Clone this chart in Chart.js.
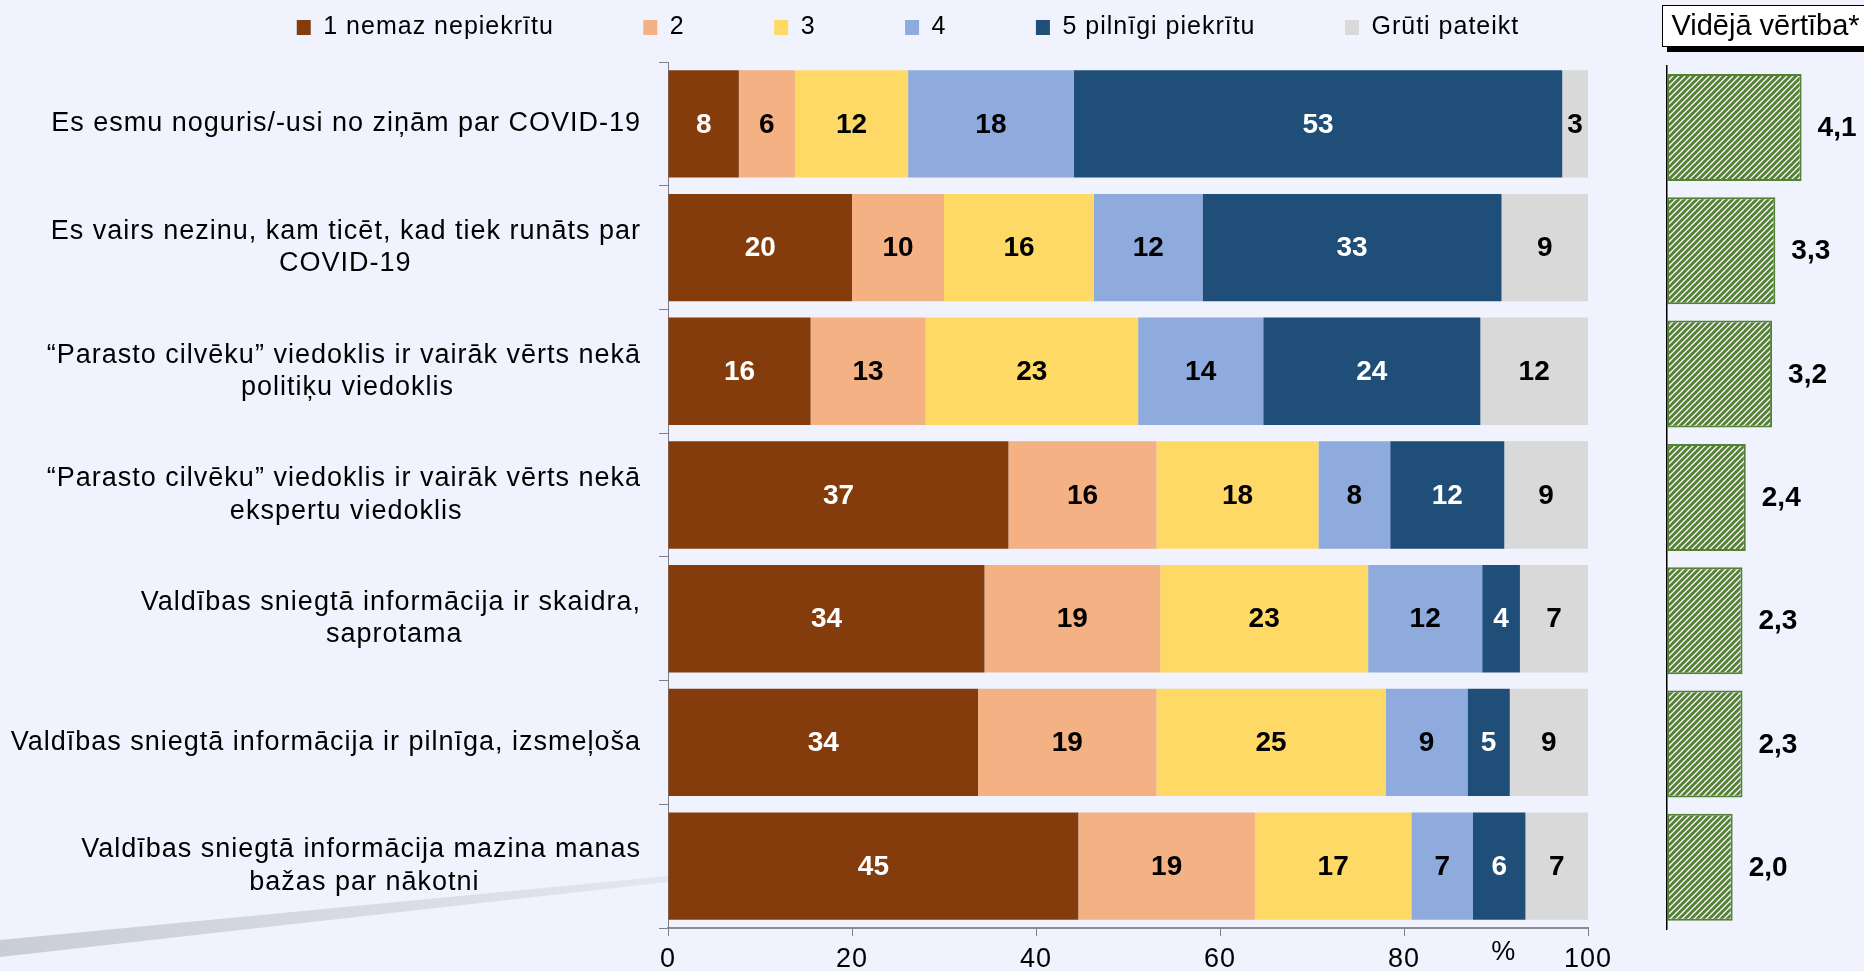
<!DOCTYPE html>
<html lang="lv">
<head>
<meta charset="utf-8">
<title>COVID-19 informācija</title>
<script src="https://cdn.jsdelivr.net/npm/chart.js@4.4.1/dist/chart.umd.min.js"></script>
<style>
  html, body { margin: 0; padding: 0; background: #F0F3FD; overflow: hidden; }
  #wrap { position: relative; width: 1864px; height: 971px; }
  #main { position: absolute; left: 0; top: 0; }
  #mean { position: absolute; left: 1640px; top: 4px; }
</style>
</head>
<body>
<div id="wrap">
  <canvas id="main" width="1816" height="971"></canvas>
  <canvas id="mean" width="224" height="967"></canvas>
</div>
<script>
// ---------- DATA ----------
const categories = [
  ["Es esmu noguris/-usi no ziņām par COVID-19"],
  ["Es vairs nezinu, kam ticēt, kad tiek runāts par", "COVID-19"],
  ["“Parasto cilvēku” viedoklis ir vairāk vērts nekā", "politiķu viedoklis"],
  ["“Parasto cilvēku” viedoklis ir vairāk vērts nekā", "ekspertu viedoklis"],
  ["Valdības sniegtā informācija ir skaidra,", "saprotama"],
  ["Valdības sniegtā informācija ir pilnīga, izsmeļoša"],
  ["Valdības sniegtā informācija mazina manas", "bažas par nākotni"]
];
const seriesNames = ["1 nemaz nepiekrītu", "2", "3", "4", "5 pilnīgi piekrītu", "Grūti pateikt"];
const s1 = [7.7, 20.0, 15.5, 37.0, 34.4, 33.7, 44.6];
const s2 = [6.1, 10.0, 12.5, 16.1, 19.1, 19.4, 19.2];
const s3 = [12.3, 16.3, 23.1, 17.6, 22.6, 24.9, 17.0];
const s4 = [18.0, 11.8, 13.6, 7.8, 12.4, 8.9, 6.7];
const s5 = [53.1, 32.5, 23.6, 12.4, 4.1, 4.6, 5.7];
const s6 = [2.8, 9.4, 11.7, 9.1, 7.4, 8.5, 6.8];
const meanValues = [4.1, 3.3, 3.2, 2.4, 2.3, 2.3, 2.0];
const xTicks = [0, 20, 40, 60, 80, 100];
const axisUnit = "%";
const meanTitle = "Vidējā vērtība*";

// ---------- STYLE ----------
const seriesColors = ["#843C0C", "#F4B183", "#FFD966", "#8FAADC", "#1F4E79", "#D9D9D9"];
const labelColors  = ["#FFFFFF", "#000000", "#000000", "#000000", "#FFFFFF", "#000000"];
const FONT = '"Liberation Sans", Arial, sans-serif';
const SPACING = '1px';
const legendGapSpaces = 10;
Chart.defaults.font.family = FONT;
Chart.defaults.color = '#000';

// centre the lines of a multi-line label under the longest one (Excel style)
const mctx = document.createElement('canvas').getContext('2d');
function centredLines(lines, font) {
  if (lines.length < 2) return lines;
  mctx.font = font; mctx.letterSpacing = SPACING;
  const ws = lines.map(l => mctx.measureText(l).width);
  const wMax = Math.max(...ws);
  const sp = mctx.measureText('a ').width - mctx.measureText('a').width;
  return lines.map((l, k) => l + ' '.repeat(Math.max(0, Math.round((wMax - ws[k]) / 2 / sp))));
}

const spacingPlugin = {
  id: 'spacing',
  beforeUpdate(c) { c.ctx.letterSpacing = SPACING; },
  beforeLayout(c) { c.ctx.letterSpacing = SPACING; },
  beforeDraw(c) { c.ctx.letterSpacing = SPACING; }
};

const decoPlugin = {
  id: 'deco',
  beforeDraw(c) {
    const ctx = c.ctx, a = c.chartArea;
    ctx.save();
    const g = ctx.createLinearGradient(0, 0, a.left, 0);
    g.addColorStop(0, '#C9CDD7');
    g.addColorStop(1, '#E3E6EE');
    ctx.fillStyle = g;
    ctx.beginPath();
    ctx.moveTo(0, 940); ctx.lineTo(a.left, 876);
    ctx.lineTo(a.left, 882); ctx.lineTo(0, 957);
    ctx.closePath(); ctx.fill();
    ctx.restore();
  },
  afterDraw(c) {
    const ctx = c.ctx, xs = c.scales.x;
    ctx.save();
    ctx.letterSpacing = '0px';
    ctx.font = '27px ' + FONT;
    ctx.fillStyle = '#000';
    ctx.textAlign = 'center'; ctx.textBaseline = 'middle';
    ctx.fillText(axisUnit, xs.getPixelForValue(90.8), xs.top + 25);
    ctx.restore();
  }
};

const barLabelPlugin = {
  id: 'barLabels',
  afterDatasetsDraw(c) {
    const ctx = c.ctx;
    ctx.save();
    ctx.letterSpacing = '0px';
    ctx.font = 'bold 28px ' + FONT;
    ctx.textAlign = 'center'; ctx.textBaseline = 'middle';
    c.data.datasets.forEach((ds, di) => {
      const meta = c.getDatasetMeta(di);
      meta.data.forEach((el, i) => {
        const p = el.getProps(['x', 'y', 'base'], true);
        ctx.fillStyle = labelColors[di];
        ctx.fillText(String(Math.round(ds.data[i])), (p.x + p.base) / 2, p.y + 1);
      });
    });
    ctx.restore();
  }
};

const seriesData = [s1, s2, s3, s4, s5, s6];

new Chart(document.getElementById('main'), {
  type: 'bar',
  data: {
    labels: categories,
    datasets: seriesNames.map((name, i) => ({
      label: name,
      data: seriesData[i],
      backgroundColor: seriesColors[i],
      borderWidth: 0,
      xAxisID: 'x', yAxisID: 'y',
      categoryPercentage: 0.868,
      barPercentage: 1
    }))
  },
  options: {
    indexAxis: 'y',
    responsive: false,
    animation: false,
    devicePixelRatio: 1,
    layout: { padding: { top: 5, left: 0, right: 0, bottom: -12 } },
    plugins: {
      tooltip: { enabled: false },
      legend: {
        position: 'top',
        labels: {
          font: { size: 25 },
          color: '#000',
          boxWidth: 14,
          boxHeight: 15,
          padding: 10,
          generateLabels(chart) {
            const items = Chart.defaults.plugins.legend.labels.generateLabels(chart);
            items.forEach((it, i) => { if (i < items.length - 1) it.text = it.text + ' '.repeat(legendGapSpaces); });
            return items;
          }
        }
      }
    },
    scales: {
      x: {
        type: 'linear', position: 'bottom', stacked: true,
        min: 0, max: 100,
        afterBuildTicks(s) { s.ticks = xTicks.map(v => ({ value: v })); },
        ticks: { font: { size: 27, lineHeight: 1 }, color: '#000', padding: 10 },
        grid: { display: true, drawOnChartArea: false, tickLength: 8, color: '#7F7F85', lineWidth: 1 },
        border: { display: true, color: '#8A8A90', width: 2 }
      },
      xTop: {
        type: 'linear', position: 'top', display: true,
        ticks: { display: false }, grid: { display: false }, border: { display: false },
        afterFit(s) { s.height = 12; }
      },
      y: {
        type: 'category', position: 'left', stacked: true,
        ticks: {
          font: { size: 27, lineHeight: 1.2 }, color: '#000', padding: 18,
          autoSkip: false,
          callback(v, i) { return centredLines(categories[i], '27px ' + FONT); }
        },
        grid: { display: true, drawOnChartArea: false, offset: true, tickLength: 9, color: '#7F7F85', lineWidth: 1 },
        border: { display: true, color: '#7F7F85', width: 1 },
        afterFit(s) { s.width = 668; s.paddingTop = 0; s.paddingBottom = 0; }
      },
      yR: {
        type: 'category', position: 'right', display: true,
        ticks: { display: false }, grid: { display: false }, border: { display: false },
        afterFit(s) { s.width = 228; }
      }
    }
  },
  plugins: [spacingPlugin, decoPlugin, barLabelPlugin]
});

// ---------- MEAN CHART ----------
function hatchPattern() {
  const s = 6;
  const c = document.createElement('canvas'); c.width = s; c.height = s;
  const g = c.getContext('2d');
  g.fillStyle = '#FFFFFF'; g.fillRect(0, 0, s, s);
  g.strokeStyle = '#548235'; g.lineWidth = 3;
  g.beginPath();
  g.moveTo(-1, s + 1); g.lineTo(s + 1, -1);
  g.moveTo(-s / 2 - 1, s / 2 + 1); g.lineTo(s / 2 + 1, -s / 2 - 1);
  g.moveTo(s / 2 - 1, s * 1.5 + 1); g.lineTo(s * 1.5 + 1, s / 2 - 1);
  g.stroke();
  return g.createPattern(c, 'repeat');
}

const titleFramePlugin = {
  id: 'titleFrame',
  beforeDraw(c) {
    const tb = c.titleBlock; if (!tb) return;
    const ctx = c.ctx;
    ctx.save();
    ctx.font = '29px ' + FONT;
    const w = ctx.measureText(meanTitle).width;
    const cx = (tb.left + tb.right) / 2;
    const x0 = Math.round(cx - w / 2 - 9), x1 = Math.round(cx + w / 2 + 5);
    const y0 = 1, y1 = 43;
    ctx.fillStyle = '#000';
    ctx.fillRect(x0 + 5, y0 + 5, x1 - x0, y1 - y0);
    ctx.fillStyle = '#FFF';
    ctx.fillRect(x0, y0, x1 - x0, y1 - y0);
    ctx.strokeStyle = '#000'; ctx.lineWidth = 1;
    ctx.strokeRect(x0 + 0.5, y0 + 0.5, x1 - x0 - 1, y1 - y0 - 1);
    ctx.restore();
  }
};

const meanLabelPlugin = {
  id: 'meanLabels',
  afterDatasetsDraw(c) {
    const ctx = c.ctx;
    ctx.save();
    ctx.font = 'bold 28px ' + FONT;
    ctx.fillStyle = '#000';
    ctx.textAlign = 'left'; ctx.textBaseline = 'middle';
    const meta = c.getDatasetMeta(0);
    meta.data.forEach((el, i) => {
      const p = el.getProps(['x', 'y'], true);
      ctx.fillText(meanValues[i].toFixed(1).replace('.', ','), p.x + 16, p.y + 1);
    });
    ctx.restore();
  }
};

new Chart(document.getElementById('mean'), {
  type: 'bar',
  data: {
    labels: categories.map(l => l.join(' ')),
    datasets: [{
      label: meanTitle,
      data: meanValues,
      backgroundColor: hatchPattern(),
      borderColor: '#548235',
      borderWidth: 2,
      borderSkipped: false,
      categoryPercentage: 0.868,
      barPercentage: 1
    }]
  },
  options: {
    indexAxis: 'y',
    responsive: false,
    animation: false,
    devicePixelRatio: 1,
    layout: { padding: { left: 27, right: 0, top: -4, bottom: 42 } },
    plugins: {
      tooltip: { enabled: false },
      legend: { display: false },
      title: {
        display: true, text: meanTitle, color: '#000',
        font: { size: 29, weight: 'normal', lineHeight: 1.2 },
        padding: { top: 10, bottom: 21 }
      }
    },
    scales: {
      x: { type: 'linear', min: 0, max: 6, display: false },
      y: {
        type: 'category', position: 'left',
        ticks: { display: false },
        grid: { display: false },
        border: { display: true, color: '#000', width: 1.5 },
        afterFit(s) { s.width = 0; }
      }
    }
  },
  plugins: [titleFramePlugin, meanLabelPlugin]
});
</script>
</body>
</html>
